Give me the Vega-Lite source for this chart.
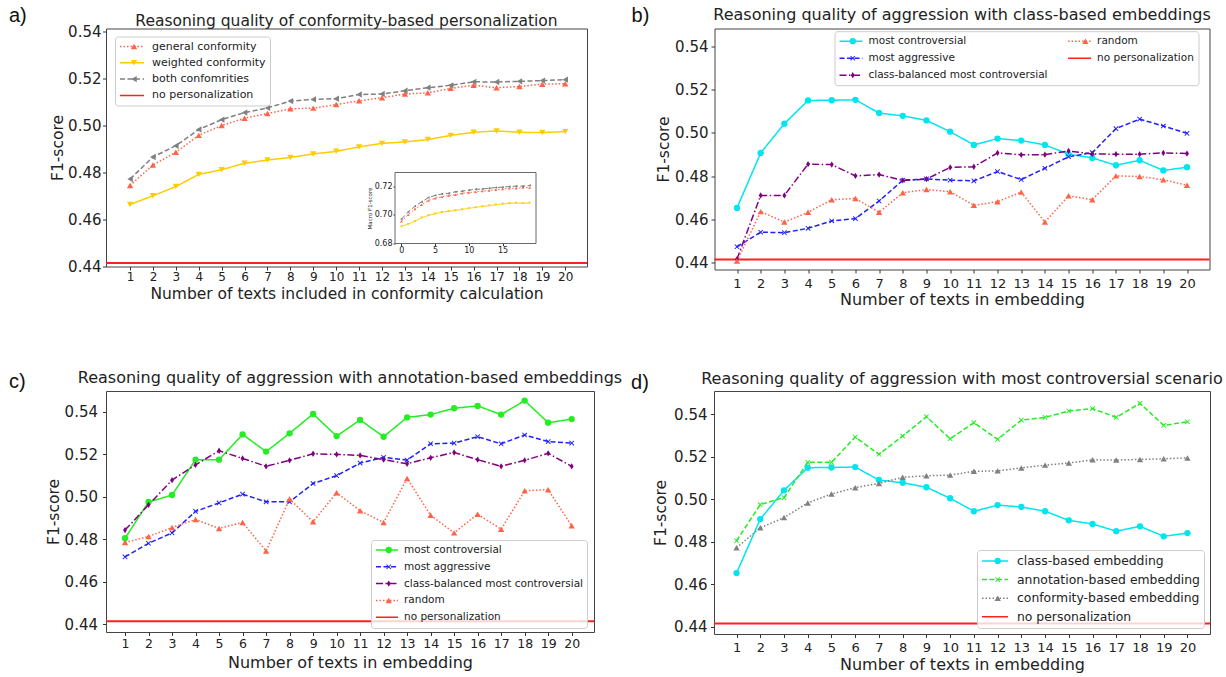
{
"$schema": "https://vega.github.io/schema/vega-lite/v6.json",
"background": "white",
"padding": {"left": 8, "top": 4.5, "right": 2, "bottom": 2},
"config": {
  "view": {"stroke": "#444", "strokeWidth": 1},
  "font": "DejaVu Sans",
  "axis": {"domain": false, "grid": false, "tickColor": "#333", "tickSize": 3.5, "labelColor": "#222", "titleColor": "#222", "labelFont": "DejaVu Sans", "titleFont": "DejaVu Sans", "titleFontWeight": "normal", "labelFlush": false, "labelOverlap": false},
  "title": {"font": "DejaVu Sans", "fontWeight": "normal", "color": "#222", "frame": "group", "anchor": "middle", "baseline": "alphabetic", "offset": 0},
  "legend": {"labelFont": "DejaVu Sans", "labelColor": "#222"}
},
"datasets": {
  "none": [{"series": "no personalization", "f1": 0.4415}],
  "a": [
    {"n":1,"f1":0.4745,"series":"general conformity"},{"n":2,"f1":0.4832,"series":"general conformity"},{"n":3,"f1":0.4886,"series":"general conformity"},{"n":4,"f1":0.4958,"series":"general conformity"},{"n":5,"f1":0.5000,"series":"general conformity"},{"n":6,"f1":0.5031,"series":"general conformity"},{"n":7,"f1":0.5051,"series":"general conformity"},{"n":8,"f1":0.5071,"series":"general conformity"},{"n":9,"f1":0.5074,"series":"general conformity"},{"n":10,"f1":0.5089,"series":"general conformity"},{"n":11,"f1":0.5105,"series":"general conformity"},{"n":12,"f1":0.5118,"series":"general conformity"},{"n":13,"f1":0.5134,"series":"general conformity"},{"n":14,"f1":0.5139,"series":"general conformity"},{"n":15,"f1":0.5158,"series":"general conformity"},{"n":16,"f1":0.5171,"series":"general conformity"},{"n":17,"f1":0.5161,"series":"general conformity"},{"n":18,"f1":0.5166,"series":"general conformity"},{"n":19,"f1":0.5176,"series":"general conformity"},{"n":20,"f1":0.5178,"series":"general conformity"},
    {"n":1,"f1":0.4664,"series":"weighted conformity"},{"n":2,"f1":0.4701,"series":"weighted conformity"},{"n":3,"f1":0.4740,"series":"weighted conformity"},{"n":4,"f1":0.4792,"series":"weighted conformity"},{"n":5,"f1":0.4812,"series":"weighted conformity"},{"n":6,"f1":0.4839,"series":"weighted conformity"},{"n":7,"f1":0.4853,"series":"weighted conformity"},{"n":8,"f1":0.4864,"series":"weighted conformity"},{"n":9,"f1":0.4879,"series":"weighted conformity"},{"n":10,"f1":0.4890,"series":"weighted conformity"},{"n":11,"f1":0.4909,"series":"weighted conformity"},{"n":12,"f1":0.4924,"series":"weighted conformity"},{"n":13,"f1":0.4930,"series":"weighted conformity"},{"n":14,"f1":0.4940,"series":"weighted conformity"},{"n":15,"f1":0.4958,"series":"weighted conformity"},{"n":16,"f1":0.4971,"series":"weighted conformity"},{"n":17,"f1":0.4977,"series":"weighted conformity"},{"n":18,"f1":0.4971,"series":"weighted conformity"},{"n":19,"f1":0.4970,"series":"weighted conformity"},{"n":20,"f1":0.4974,"series":"weighted conformity"},
    {"n":1,"f1":0.4772,"series":"both confomrities"},{"n":2,"f1":0.4866,"series":"both confomrities"},{"n":3,"f1":0.4914,"series":"both confomrities"},{"n":4,"f1":0.4983,"series":"both confomrities"},{"n":5,"f1":0.5025,"series":"both confomrities"},{"n":6,"f1":0.5055,"series":"both confomrities"},{"n":7,"f1":0.5075,"series":"both confomrities"},{"n":8,"f1":0.5104,"series":"both confomrities"},{"n":9,"f1":0.5111,"series":"both confomrities"},{"n":10,"f1":0.5114,"series":"both confomrities"},{"n":11,"f1":0.5132,"series":"both confomrities"},{"n":12,"f1":0.5134,"series":"both confomrities"},{"n":13,"f1":0.5148,"series":"both confomrities"},{"n":14,"f1":0.5161,"series":"both confomrities"},{"n":15,"f1":0.5171,"series":"both confomrities"},{"n":16,"f1":0.5186,"series":"both confomrities"},{"n":17,"f1":0.5185,"series":"both confomrities"},{"n":18,"f1":0.5188,"series":"both confomrities"},{"n":19,"f1":0.5191,"series":"both confomrities"},{"n":20,"f1":0.5195,"series":"both confomrities"}
  ],
  "ai": [
    {"n":0,"f1":0.6955,"series":"general conformity"},{"n":1,"f1":0.700,"series":"general conformity"},{"n":2,"f1":0.704,"series":"general conformity"},{"n":3,"f1":0.707,"series":"general conformity"},{"n":4,"f1":0.710,"series":"general conformity"},{"n":5,"f1":0.7115,"series":"general conformity"},{"n":6,"f1":0.7125,"series":"general conformity"},{"n":7,"f1":0.7135,"series":"general conformity"},{"n":8,"f1":0.714,"series":"general conformity"},{"n":9,"f1":0.715,"series":"general conformity"},{"n":10,"f1":0.7155,"series":"general conformity"},{"n":11,"f1":0.716,"series":"general conformity"},{"n":12,"f1":0.7165,"series":"general conformity"},{"n":13,"f1":0.717,"series":"general conformity"},{"n":14,"f1":0.7175,"series":"general conformity"},{"n":15,"f1":0.718,"series":"general conformity"},{"n":16,"f1":0.7185,"series":"general conformity"},{"n":17,"f1":0.7185,"series":"general conformity"},{"n":18,"f1":0.719,"series":"general conformity"},{"n":19,"f1":0.719,"series":"general conformity"},
    {"n":0,"f1":0.6919,"series":"weighted conformity"},{"n":1,"f1":0.6935,"series":"weighted conformity"},{"n":2,"f1":0.6955,"series":"weighted conformity"},{"n":3,"f1":0.698,"series":"weighted conformity"},{"n":4,"f1":0.6995,"series":"weighted conformity"},{"n":5,"f1":0.7008,"series":"weighted conformity"},{"n":6,"f1":0.7018,"series":"weighted conformity"},{"n":7,"f1":0.7025,"series":"weighted conformity"},{"n":8,"f1":0.703,"series":"weighted conformity"},{"n":9,"f1":0.7038,"series":"weighted conformity"},{"n":10,"f1":0.7045,"series":"weighted conformity"},{"n":11,"f1":0.7052,"series":"weighted conformity"},{"n":12,"f1":0.7058,"series":"weighted conformity"},{"n":13,"f1":0.7064,"series":"weighted conformity"},{"n":14,"f1":0.707,"series":"weighted conformity"},{"n":15,"f1":0.7076,"series":"weighted conformity"},{"n":16,"f1":0.708,"series":"weighted conformity"},{"n":17,"f1":0.7082,"series":"weighted conformity"},{"n":18,"f1":0.708,"series":"weighted conformity"},{"n":19,"f1":0.7082,"series":"weighted conformity"},
    {"n":0,"f1":0.697,"series":"both confomrities"},{"n":1,"f1":0.702,"series":"both confomrities"},{"n":2,"f1":0.706,"series":"both confomrities"},{"n":3,"f1":0.709,"series":"both confomrities"},{"n":4,"f1":0.712,"series":"both confomrities"},{"n":5,"f1":0.7135,"series":"both confomrities"},{"n":6,"f1":0.7145,"series":"both confomrities"},{"n":7,"f1":0.715,"series":"both confomrities"},{"n":8,"f1":0.716,"series":"both confomrities"},{"n":9,"f1":0.7165,"series":"both confomrities"},{"n":10,"f1":0.7172,"series":"both confomrities"},{"n":11,"f1":0.7178,"series":"both confomrities"},{"n":12,"f1":0.718,"series":"both confomrities"},{"n":13,"f1":0.7185,"series":"both confomrities"},{"n":14,"f1":0.719,"series":"both confomrities"},{"n":15,"f1":0.7193,"series":"both confomrities"},{"n":16,"f1":0.7197,"series":"both confomrities"},{"n":17,"f1":0.720,"series":"both confomrities"},{"n":18,"f1":0.720,"series":"both confomrities"},{"n":19,"f1":0.7205,"series":"both confomrities"}
  ],
  "b": [
    {"n":1,"f1":0.4653,"series":"most controversial"},{"n":2,"f1":0.4907,"series":"most controversial"},{"n":3,"f1":0.5042,"series":"most controversial"},{"n":4,"f1":0.5149,"series":"most controversial"},{"n":5,"f1":0.5150,"series":"most controversial"},{"n":6,"f1":0.5152,"series":"most controversial"},{"n":7,"f1":0.5091,"series":"most controversial"},{"n":8,"f1":0.5078,"series":"most controversial"},{"n":9,"f1":0.5057,"series":"most controversial"},{"n":10,"f1":0.5005,"series":"most controversial"},{"n":11,"f1":0.4944,"series":"most controversial"},{"n":12,"f1":0.4973,"series":"most controversial"},{"n":13,"f1":0.4964,"series":"most controversial"},{"n":14,"f1":0.4944,"series":"most controversial"},{"n":15,"f1":0.4901,"series":"most controversial"},{"n":16,"f1":0.4884,"series":"most controversial"},{"n":17,"f1":0.4850,"series":"most controversial"},{"n":18,"f1":0.4873,"series":"most controversial"},{"n":19,"f1":0.4826,"series":"most controversial"},{"n":20,"f1":0.4841,"series":"most controversial"},
    {"n":1,"f1":0.4474,"series":"most aggressive"},{"n":2,"f1":0.4541,"series":"most aggressive"},{"n":3,"f1":0.4539,"series":"most aggressive"},{"n":4,"f1":0.4559,"series":"most aggressive"},{"n":5,"f1":0.4593,"series":"most aggressive"},{"n":6,"f1":0.4604,"series":"most aggressive"},{"n":7,"f1":0.4685,"series":"most aggressive"},{"n":8,"f1":0.4781,"series":"most aggressive"},{"n":9,"f1":0.4787,"series":"most aggressive"},{"n":10,"f1":0.4781,"series":"most aggressive"},{"n":11,"f1":0.4778,"series":"most aggressive"},{"n":12,"f1":0.4821,"series":"most aggressive"},{"n":13,"f1":0.4784,"series":"most aggressive"},{"n":14,"f1":0.4836,"series":"most aggressive"},{"n":15,"f1":0.4889,"series":"most aggressive"},{"n":16,"f1":0.4908,"series":"most aggressive"},{"n":17,"f1":0.5019,"series":"most aggressive"},{"n":18,"f1":0.5063,"series":"most aggressive"},{"n":19,"f1":0.5031,"series":"most aggressive"},{"n":20,"f1":0.4997,"series":"most aggressive"},
    {"n":1,"f1":0.4417,"series":"class-balanced most controversial"},{"n":2,"f1":0.4711,"series":"class-balanced most controversial"},{"n":3,"f1":0.4711,"series":"class-balanced most controversial"},{"n":4,"f1":0.4855,"series":"class-balanced most controversial"},{"n":5,"f1":0.4853,"series":"class-balanced most controversial"},{"n":6,"f1":0.4801,"series":"class-balanced most controversial"},{"n":7,"f1":0.4807,"series":"class-balanced most controversial"},{"n":8,"f1":0.4780,"series":"class-balanced most controversial"},{"n":9,"f1":0.4786,"series":"class-balanced most controversial"},{"n":10,"f1":0.4840,"series":"class-balanced most controversial"},{"n":11,"f1":0.4843,"series":"class-balanced most controversial"},{"n":12,"f1":0.4907,"series":"class-balanced most controversial"},{"n":13,"f1":0.4898,"series":"class-balanced most controversial"},{"n":14,"f1":0.4899,"series":"class-balanced most controversial"},{"n":15,"f1":0.4916,"series":"class-balanced most controversial"},{"n":16,"f1":0.4902,"series":"class-balanced most controversial"},{"n":17,"f1":0.4901,"series":"class-balanced most controversial"},{"n":18,"f1":0.4901,"series":"class-balanced most controversial"},{"n":19,"f1":0.4907,"series":"class-balanced most controversial"},{"n":20,"f1":0.4904,"series":"class-balanced most controversial"},
    {"n":1,"f1":0.4408,"series":"random"},{"n":2,"f1":0.4636,"series":"random"},{"n":3,"f1":0.4588,"series":"random"},{"n":4,"f1":0.4633,"series":"random"},{"n":5,"f1":0.4691,"series":"random"},{"n":6,"f1":0.4697,"series":"random"},{"n":7,"f1":0.4633,"series":"random"},{"n":8,"f1":0.4723,"series":"random"},{"n":9,"f1":0.4738,"series":"random"},{"n":10,"f1":0.4728,"series":"random"},{"n":11,"f1":0.4665,"series":"random"},{"n":12,"f1":0.4682,"series":"random"},{"n":13,"f1":0.4726,"series":"random"},{"n":14,"f1":0.4588,"series":"random"},{"n":15,"f1":0.4709,"series":"random"},{"n":16,"f1":0.4691,"series":"random"},{"n":17,"f1":0.4801,"series":"random"},{"n":18,"f1":0.4798,"series":"random"},{"n":19,"f1":0.4783,"series":"random"},{"n":20,"f1":0.4758,"series":"random"}
  ],
  "c": [
    {"n":1,"f1":0.4805,"series":"most controversial"},{"n":2,"f1":0.4975,"series":"most controversial"},{"n":3,"f1":0.5008,"series":"most controversial"},{"n":4,"f1":0.5174,"series":"most controversial"},{"n":5,"f1":0.5174,"series":"most controversial"},{"n":6,"f1":0.5293,"series":"most controversial"},{"n":7,"f1":0.5212,"series":"most controversial"},{"n":8,"f1":0.5298,"series":"most controversial"},{"n":9,"f1":0.5389,"series":"most controversial"},{"n":10,"f1":0.5285,"series":"most controversial"},{"n":11,"f1":0.5361,"series":"most controversial"},{"n":12,"f1":0.5282,"series":"most controversial"},{"n":13,"f1":0.5373,"series":"most controversial"},{"n":14,"f1":0.5386,"series":"most controversial"},{"n":15,"f1":0.5416,"series":"most controversial"},{"n":16,"f1":0.5427,"series":"most controversial"},{"n":17,"f1":0.5386,"series":"most controversial"},{"n":18,"f1":0.5452,"series":"most controversial"},{"n":19,"f1":0.5348,"series":"most controversial"},{"n":20,"f1":0.5365,"series":"most controversial"},
    {"n":1,"f1":0.4717,"series":"most aggressive"},{"n":2,"f1":0.4781,"series":"most aggressive"},{"n":3,"f1":0.4830,"series":"most aggressive"},{"n":4,"f1":0.4931,"series":"most aggressive"},{"n":5,"f1":0.4971,"series":"most aggressive"},{"n":6,"f1":0.5012,"series":"most aggressive"},{"n":7,"f1":0.4976,"series":"most aggressive"},{"n":8,"f1":0.4976,"series":"most aggressive"},{"n":9,"f1":0.5062,"series":"most aggressive"},{"n":10,"f1":0.5099,"series":"most aggressive"},{"n":11,"f1":0.5158,"series":"most aggressive"},{"n":12,"f1":0.5185,"series":"most aggressive"},{"n":13,"f1":0.5172,"series":"most aggressive"},{"n":14,"f1":0.5249,"series":"most aggressive"},{"n":15,"f1":0.5252,"series":"most aggressive"},{"n":16,"f1":0.5282,"series":"most aggressive"},{"n":17,"f1":0.5249,"series":"most aggressive"},{"n":18,"f1":0.5290,"series":"most aggressive"},{"n":19,"f1":0.5259,"series":"most aggressive"},{"n":20,"f1":0.5252,"series":"most aggressive"},
    {"n":1,"f1":0.4843,"series":"class-balanced most controversial"},{"n":2,"f1":0.4962,"series":"class-balanced most controversial"},{"n":3,"f1":0.5078,"series":"class-balanced most controversial"},{"n":4,"f1":0.5150,"series":"class-balanced most controversial"},{"n":5,"f1":0.5216,"series":"class-balanced most controversial"},{"n":6,"f1":0.5180,"series":"class-balanced most controversial"},{"n":7,"f1":0.5143,"series":"class-balanced most controversial"},{"n":8,"f1":0.5171,"series":"class-balanced most controversial"},{"n":9,"f1":0.5202,"series":"class-balanced most controversial"},{"n":10,"f1":0.5199,"series":"class-balanced most controversial"},{"n":11,"f1":0.5194,"series":"class-balanced most controversial"},{"n":12,"f1":0.5174,"series":"class-balanced most controversial"},{"n":13,"f1":0.5155,"series":"class-balanced most controversial"},{"n":14,"f1":0.5183,"series":"class-balanced most controversial"},{"n":15,"f1":0.5208,"series":"class-balanced most controversial"},{"n":16,"f1":0.5174,"series":"class-balanced most controversial"},{"n":17,"f1":0.5143,"series":"class-balanced most controversial"},{"n":18,"f1":0.5171,"series":"class-balanced most controversial"},{"n":19,"f1":0.5204,"series":"class-balanced most controversial"},{"n":20,"f1":0.5143,"series":"class-balanced most controversial"},
    {"n":1,"f1":0.4785,"series":"random"},{"n":2,"f1":0.4813,"series":"random"},{"n":3,"f1":0.4855,"series":"random"},{"n":4,"f1":0.4893,"series":"random"},{"n":5,"f1":0.4851,"series":"random"},{"n":6,"f1":0.4879,"series":"random"},{"n":7,"f1":0.4745,"series":"random"},{"n":8,"f1":0.4989,"series":"random"},{"n":9,"f1":0.4882,"series":"random"},{"n":10,"f1":0.5019,"series":"random"},{"n":11,"f1":0.4934,"series":"random"},{"n":12,"f1":0.4879,"series":"random"},{"n":13,"f1":0.5086,"series":"random"},{"n":14,"f1":0.4913,"series":"random"},{"n":15,"f1":0.4830,"series":"random"},{"n":16,"f1":0.4918,"series":"random"},{"n":17,"f1":0.4847,"series":"random"},{"n":18,"f1":0.5028,"series":"random"},{"n":19,"f1":0.5033,"series":"random"},{"n":20,"f1":0.4863,"series":"random"}
  ],
  "d": [
    {"n":1,"f1":0.4653,"series":"class-based embedding"},{"n":2,"f1":0.4907,"series":"class-based embedding"},{"n":3,"f1":0.5042,"series":"class-based embedding"},{"n":4,"f1":0.5149,"series":"class-based embedding"},{"n":5,"f1":0.5150,"series":"class-based embedding"},{"n":6,"f1":0.5152,"series":"class-based embedding"},{"n":7,"f1":0.5091,"series":"class-based embedding"},{"n":8,"f1":0.5078,"series":"class-based embedding"},{"n":9,"f1":0.5057,"series":"class-based embedding"},{"n":10,"f1":0.5005,"series":"class-based embedding"},{"n":11,"f1":0.4944,"series":"class-based embedding"},{"n":12,"f1":0.4973,"series":"class-based embedding"},{"n":13,"f1":0.4964,"series":"class-based embedding"},{"n":14,"f1":0.4944,"series":"class-based embedding"},{"n":15,"f1":0.4901,"series":"class-based embedding"},{"n":16,"f1":0.4884,"series":"class-based embedding"},{"n":17,"f1":0.4850,"series":"class-based embedding"},{"n":18,"f1":0.4873,"series":"class-based embedding"},{"n":19,"f1":0.4826,"series":"class-based embedding"},{"n":20,"f1":0.4841,"series":"class-based embedding"},
    {"n":1,"f1":0.4805,"series":"annotation-based embedding"},{"n":2,"f1":0.4975,"series":"annotation-based embedding"},{"n":3,"f1":0.5008,"series":"annotation-based embedding"},{"n":4,"f1":0.5174,"series":"annotation-based embedding"},{"n":5,"f1":0.5174,"series":"annotation-based embedding"},{"n":6,"f1":0.5293,"series":"annotation-based embedding"},{"n":7,"f1":0.5212,"series":"annotation-based embedding"},{"n":8,"f1":0.5298,"series":"annotation-based embedding"},{"n":9,"f1":0.5389,"series":"annotation-based embedding"},{"n":10,"f1":0.5285,"series":"annotation-based embedding"},{"n":11,"f1":0.5361,"series":"annotation-based embedding"},{"n":12,"f1":0.5282,"series":"annotation-based embedding"},{"n":13,"f1":0.5373,"series":"annotation-based embedding"},{"n":14,"f1":0.5386,"series":"annotation-based embedding"},{"n":15,"f1":0.5416,"series":"annotation-based embedding"},{"n":16,"f1":0.5427,"series":"annotation-based embedding"},{"n":17,"f1":0.5386,"series":"annotation-based embedding"},{"n":18,"f1":0.5452,"series":"annotation-based embedding"},{"n":19,"f1":0.5348,"series":"annotation-based embedding"},{"n":20,"f1":0.5365,"series":"annotation-based embedding"},
    {"n":1,"f1":0.4772,"series":"conformity-based embedding"},{"n":2,"f1":0.4866,"series":"conformity-based embedding"},{"n":3,"f1":0.4914,"series":"conformity-based embedding"},{"n":4,"f1":0.4983,"series":"conformity-based embedding"},{"n":5,"f1":0.5025,"series":"conformity-based embedding"},{"n":6,"f1":0.5055,"series":"conformity-based embedding"},{"n":7,"f1":0.5075,"series":"conformity-based embedding"},{"n":8,"f1":0.5104,"series":"conformity-based embedding"},{"n":9,"f1":0.5111,"series":"conformity-based embedding"},{"n":10,"f1":0.5114,"series":"conformity-based embedding"},{"n":11,"f1":0.5132,"series":"conformity-based embedding"},{"n":12,"f1":0.5134,"series":"conformity-based embedding"},{"n":13,"f1":0.5148,"series":"conformity-based embedding"},{"n":14,"f1":0.5161,"series":"conformity-based embedding"},{"n":15,"f1":0.5171,"series":"conformity-based embedding"},{"n":16,"f1":0.5186,"series":"conformity-based embedding"},{"n":17,"f1":0.5185,"series":"conformity-based embedding"},{"n":18,"f1":0.5188,"series":"conformity-based embedding"},{"n":19,"f1":0.5191,"series":"conformity-based embedding"},{"n":20,"f1":0.5195,"series":"conformity-based embedding"}
  ]
},
"spacing": 60.5,
"resolve": {"scale": {"color": "independent", "fill": "independent", "shape": "independent", "strokeDash": "independent"}},
"vconcat": [
 {
  "spacing": 41.5,
  "resolve": {"scale": {"color": "independent", "fill": "independent", "shape": "independent", "strokeDash": "independent"}},
  "hconcat": [
   {
    "width": 481, "height": 238,
    "title": {"text": "Reasoning quality of conformity-based personalization", "fontSize": 15.5, "dy": 27.6},
    "resolve": {"scale": {"x": "independent", "y": "independent"}},
    "layer": [
     {
      "layer": [
       {"data": {"name": "none"}, "mark": {"type": "rule", "strokeWidth": 2},
        "encoding": {
         "y": {"field": "f1", "type": "quantitative", "scale": {"domain": [0.44, 0.54128], "nice": false, "zero": false}},
         "color": {"field": "series", "type": "nominal", "scale": {"domain": ["general conformity", "weighted conformity", "both confomrities", "no personalization"], "range": ["#ff6347", "#ffcc00", "#808080", "#ff2020"]}, "legend": {"orient": "none", "legendX": 9, "legendY": 8, "title": null, "symbolType": "stroke", "symbolSize": 576, "symbolStrokeWidth": 1.5, "clipHeight": 12, "labelFontSize": 11, "labelLimit": 400, "labelOffset": 7, "rowPadding": 4.3, "padding": 4, "fillColor": "rgba(255,255,255,0.8)", "strokeColor": "#cccccc", "cornerRadius": 3}},
         "strokeDash": {"field": "series", "type": "nominal", "scale": {"domain": ["general conformity", "weighted conformity", "both confomrities", "no personalization"], "range": [[1.5, 2], [1, 0], [5, 2.5], [1, 0]]}}
        }},
       {"data": {"name": "a"}, "mark": {"type": "line", "strokeWidth": 1.5},
        "encoding": {
         "x": {"field": "n", "type": "quantitative", "scale": {"domain": [-0.05, 20.95], "nice": false, "zero": false}, "axis": {"values": [1,2,3,4,5,6,7,8,9,10,11,12,13,14,15,16,17,18,19,20], "tickCount": 40, "format": "d", "labelOverlap": false, "title": "Number of texts included in conformity calculation", "labelFontSize": 12, "titleFontSize": 15.5, "labelPadding": 1.2, "titlePadding": 4.6}},
         "y": {"field": "f1", "type": "quantitative", "scale": {"domain": [0.44, 0.54128], "nice": false, "zero": false}, "axis": {"values": [0.44, 0.46, 0.48, 0.5, 0.52, 0.54], "tickCount": 12, "format": ".2f", "labelOverlap": false, "title": "F1-score", "labelFontSize": 15, "titleFontSize": 15.5, "labelPadding": 1.5, "titlePadding": 2.5}},
         "color": {"field": "series", "type": "nominal", "scale": {"domain": ["general conformity", "weighted conformity", "both confomrities", "no personalization"], "range": ["#ff6347", "#ffcc00", "#808080", "#ff2020"]}},
         "strokeDash": {"field": "series", "type": "nominal", "scale": {"domain": ["general conformity", "weighted conformity", "both confomrities", "no personalization"], "range": [[1.5, 2], [1, 0], [5, 2.5], [1, 0]]}}
        }},
       {"data": {"name": "a"}, "mark": {"type": "point", "filled": true, "size": 40, "opacity": 1},
        "encoding": {
         "x": {"field": "n", "type": "quantitative", "scale": {"domain": [-0.05, 20.95], "nice": false, "zero": false}},
         "y": {"field": "f1", "type": "quantitative", "scale": {"domain": [0.44, 0.54128], "nice": false, "zero": false}},
         "fill": {"field": "series", "type": "nominal", "scale": {"domain": ["general conformity", "weighted conformity", "both confomrities"], "range": ["#ff6347", "#ffcc00", "#808080"]}, "legend": {"orient": "none", "legendX": 18.5, "legendY": 8, "title": null, "symbolSize": 40, "symbolStrokeWidth": 0, "clipHeight": 12, "labelFontSize": 11, "labelLimit": 400, "labelOpacity": 0, "labelOffset": 26, "rowPadding": 4.3, "padding": 4}},
         "shape": {"field": "series", "type": "nominal", "scale": {"domain": ["general conformity", "weighted conformity", "both confomrities"], "range": ["triangle-up", "triangle-down", "triangle-left"]}}
        }},
       {"data": {"values": [{"label": "a)"}]}, "mark": {"type": "text", "align": "left", "baseline": "middle", "font": "Liberation Sans", "fontSize": 20, "color": "#111", "clip": false},
        "encoding": {"x": {"datum": -4.285, "type": "quantitative"}, "y": {"datum": 0.54681, "type": "quantitative"}, "text": {"field": "label"}}}
      ]
     },
     {
      "layer": [
       {"data": {"values": [{"frame": "inset"}]}, "mark": {"type": "rect", "fill": "white", "stroke": "#444", "strokeWidth": 0.8},
        "encoding": {
         "x": {"datum": -0.95, "type": "quantitative", "scale": {"domain": [-0.95, 19.95], "range": [289, 430], "nice": false, "zero": false}, "axis": {"orient": "bottom", "offset": -23, "values": [0, 5, 10, 15], "tickCount": 10, "format": "d", "labelOverlap": false, "title": null, "labelFontSize": 8, "tickSize": 2, "labelPadding": 1}},
         "x2": {"datum": 19.95},
         "y": {"datum": 0.68, "type": "quantitative", "scale": {"domain": [0.68, 0.7295], "range": [215, 144], "nice": false, "zero": false}, "axis": {"orient": "left", "offset": -289, "values": [0.68, 0.70, 0.72], "tickCount": 10, "format": ".2f", "labelOverlap": false, "title": "Macro F1-score", "titleFontSize": 5.5, "labelFontSize": 8, "tickSize": 2, "labelPadding": 1, "titlePadding": 2}},
         "y2": {"datum": 0.7295}
        }},
       {"data": {"name": "ai"}, "mark": {"type": "line", "strokeWidth": 1},
        "encoding": {
         "x": {"field": "n", "type": "quantitative", "scale": {"domain": [-0.95, 19.95], "range": [289, 430], "nice": false, "zero": false}},
         "y": {"field": "f1", "type": "quantitative", "scale": {"domain": [0.68, 0.7295], "range": [215, 144], "nice": false, "zero": false}},
         "color": {"field": "series", "type": "nominal", "scale": {"domain": ["general conformity", "weighted conformity", "both confomrities", "no personalization"], "range": ["#ff6347", "#ffcc00", "#808080", "#ff2020"]}},
         "strokeDash": {"field": "series", "type": "nominal", "scale": {"domain": ["general conformity", "weighted conformity", "both confomrities", "no personalization"], "range": [[1.5, 2], [1, 0], [5, 2.5], [1, 0]]}}
        }},
       {"data": {"name": "ai"}, "mark": {"type": "point", "filled": true, "size": 8, "opacity": 1},
        "encoding": {
         "x": {"field": "n", "type": "quantitative", "scale": {"domain": [-0.95, 19.95], "range": [289, 430], "nice": false, "zero": false}},
         "y": {"field": "f1", "type": "quantitative", "scale": {"domain": [0.68, 0.7295], "range": [215, 144], "nice": false, "zero": false}},
         "fill": {"field": "series", "type": "nominal", "scale": {"domain": ["general conformity", "weighted conformity", "both confomrities"], "range": ["#ff6347", "#ffcc00", "#808080"]}},
         "shape": {"field": "series", "type": "nominal", "scale": {"domain": ["general conformity", "weighted conformity", "both confomrities"], "range": ["triangle-up", "triangle-down", "triangle-left"]}}
        }}
      ]
     }
    ]
   },
   {
    "width": 495, "height": 241,
    "title": {"text": "Reasoning quality of aggression with class-based embeddings", "fontSize": 16, "dy": 20.1},
    "layer": [
     {"data": {"name": "none"}, "mark": {"type": "rule", "strokeWidth": 2},
      "encoding": {
       "y": {"field": "f1", "type": "quantitative", "scale": {"domain": [0.4369, 0.5481], "nice": false, "zero": false}},
       "color": {"field": "series", "type": "nominal", "scale": {"domain": ["most controversial", "most aggressive", "class-balanced most controversial", "random", "no personalization"], "range": ["#00e5ee", "#1f1fff", "#800080", "#ff6347", "#ff2020"]}, "legend": {"orient": "none", "legendX": 120, "legendY": 2.7, "title": null, "columns": 2, "columnPadding": 19.6, "symbolType": "stroke", "symbolSize": 529, "symbolStrokeWidth": 1.5, "clipHeight": 12, "labelFontSize": 10.5, "labelLimit": 400, "labelOffset": 5, "rowPadding": 5, "padding": 4, "fillColor": "rgba(255,255,255,0.8)", "strokeColor": "#cccccc", "cornerRadius": 3}},
       "strokeDash": {"field": "series", "type": "nominal", "scale": {"domain": ["most controversial", "most aggressive", "class-balanced most controversial", "random", "no personalization"], "range": [[1, 0], [5, 2.5], [7, 2.5, 1.5, 2.5], [1.5, 2], [1, 0]]}}
      }},
     {"data": {"name": "b"}, "mark": {"type": "line", "strokeWidth": 1.5},
      "encoding": {
       "x": {"field": "n", "type": "quantitative", "scale": {"domain": [0.05, 20.95], "nice": false, "zero": false}, "axis": {"values": [1,2,3,4,5,6,7,8,9,10,11,12,13,14,15,16,17,18,19,20], "tickCount": 40, "format": "d", "labelOverlap": false, "title": "Number of texts in embedding", "labelFontSize": 13, "titleFontSize": 16, "labelPadding": 4.7, "titlePadding": 1.2}},
       "y": {"field": "f1", "type": "quantitative", "scale": {"domain": [0.4369, 0.5481], "nice": false, "zero": false}, "axis": {"values": [0.44, 0.46, 0.48, 0.5, 0.52, 0.54], "tickCount": 12, "format": ".2f", "labelOverlap": false, "title": "F1-score", "labelFontSize": 15, "titleFontSize": 15.5, "labelPadding": 3, "titlePadding": 3.3}},
       "color": {"field": "series", "type": "nominal", "scale": {"domain": ["most controversial", "most aggressive", "class-balanced most controversial", "random", "no personalization"], "range": ["#00e5ee", "#1f1fff", "#800080", "#ff6347", "#ff2020"]}},
       "strokeDash": {"field": "series", "type": "nominal", "scale": {"domain": ["most controversial", "most aggressive", "class-balanced most controversial", "random", "no personalization"], "range": [[1, 0], [5, 2.5], [7, 2.5, 1.5, 2.5], [1.5, 2], [1, 0]]}}
      }},
     {"data": {"name": "b"}, "mark": {"type": "point", "filled": true, "size": 40, "opacity": 1},
      "encoding": {
       "x": {"field": "n", "type": "quantitative", "scale": {"domain": [0.05, 20.95], "nice": false, "zero": false}},
       "y": {"field": "f1", "type": "quantitative", "scale": {"domain": [0.4369, 0.5481], "nice": false, "zero": false}},
       "fill": {"field": "series", "type": "nominal", "scale": {"domain": ["most controversial", "most aggressive", "class-balanced most controversial", "random", "_"], "range": ["#00e5ee", "#1f1fff", "#800080", "#ff6347", "transparent"]}, "legend": {"orient": "none", "legendX": 129, "legendY": 2.7, "title": null, "columns": 2, "columnPadding": 19.6, "symbolSize": 40, "symbolStrokeWidth": 0, "clipHeight": 12, "labelFontSize": 10.5, "labelLimit": 400, "labelOpacity": 0, "labelOffset": 23, "rowPadding": 5, "padding": 4}},
       "shape": {"field": "series", "type": "nominal", "scale": {"domain": ["most controversial", "most aggressive", "class-balanced most controversial", "random", "_"], "range": ["circle", "M-0.6,0.81L0,0.21L0.6,0.81L0.81,0.6L0.21,0L0.81,-0.6L0.6,-0.81L0,-0.21L-0.6,-0.81L-0.81,-0.6L-0.21,0L-0.81,0.6Z", "M0,-1L0.62,0L0,1L-0.62,0Z", "triangle-up", "circle"]}}
      }},
     {"data": {"values": [{"label": "b)"}]}, "mark": {"type": "text", "align": "left", "baseline": "middle", "font": "Liberation Sans", "fontSize": 20, "color": "#111", "clip": false},
      "encoding": {"x": {"datum": -3.454, "type": "quantitative"}, "y": {"datum": 0.55364, "type": "quantitative"}, "text": {"field": "label"}}}
    ]
   }
  ]
 },
 {
  "spacing": 7,
  "resolve": {"scale": {"color": "independent", "fill": "independent", "shape": "independent", "strokeDash": "independent"}},
  "hconcat": [
   {
    "width": 488, "height": 241,
    "title": {"text": "Reasoning quality of aggression with annotation-based embeddings", "fontSize": 16, "dy": 18.1},
    "layer": [
     {"data": {"name": "none"}, "mark": {"type": "rule", "strokeWidth": 2},
      "encoding": {
       "y": {"field": "f1", "type": "quantitative", "scale": {"domain": [0.4364, 0.5497], "nice": false, "zero": false}},
       "color": {"field": "series", "type": "nominal", "scale": {"domain": ["most controversial", "most aggressive", "class-balanced most controversial", "random", "no personalization"], "range": ["#22ee22", "#1f1fff", "#800080", "#ff6347", "#ff2020"]}, "legend": {"orient": "none", "legendX": 265, "legendY": 149, "title": null, "symbolType": "stroke", "symbolSize": 484, "symbolStrokeWidth": 1.5, "clipHeight": 12, "labelFontSize": 10.5, "labelLimit": 400, "labelOffset": 5, "rowPadding": 4.8, "padding": 4, "fillColor": "rgba(255,255,255,0.8)", "strokeColor": "#cccccc", "cornerRadius": 3}},
       "strokeDash": {"field": "series", "type": "nominal", "scale": {"domain": ["most controversial", "most aggressive", "class-balanced most controversial", "random", "no personalization"], "range": [[1, 0], [5, 2.5], [7, 2.5, 1.5, 2.5], [1.5, 2], [1, 0]]}}
      }},
     {"data": {"name": "c"}, "mark": {"type": "line", "strokeWidth": 1.5},
      "encoding": {
       "x": {"field": "n", "type": "quantitative", "scale": {"domain": [0.19, 20.95], "nice": false, "zero": false}, "axis": {"values": [1,2,3,4,5,6,7,8,9,10,11,12,13,14,15,16,17,18,19,20], "tickCount": 40, "format": "d", "labelOverlap": false, "title": "Number of texts in embedding", "labelFontSize": 12.5, "titleFontSize": 16, "labelPadding": 2, "titlePadding": 4.8}},
       "y": {"field": "f1", "type": "quantitative", "scale": {"domain": [0.4364, 0.5497], "nice": false, "zero": false}, "axis": {"values": [0.44, 0.46, 0.48, 0.5, 0.52, 0.54], "tickCount": 12, "format": ".2f", "labelOverlap": false, "title": "F1-score", "labelFontSize": 15, "titleFontSize": 15.5, "labelPadding": 5, "titlePadding": 2.4}},
       "color": {"field": "series", "type": "nominal", "scale": {"domain": ["most controversial", "most aggressive", "class-balanced most controversial", "random", "no personalization"], "range": ["#22ee22", "#1f1fff", "#800080", "#ff6347", "#ff2020"]}},
       "strokeDash": {"field": "series", "type": "nominal", "scale": {"domain": ["most controversial", "most aggressive", "class-balanced most controversial", "random", "no personalization"], "range": [[1, 0], [5, 2.5], [7, 2.5, 1.5, 2.5], [1.5, 2], [1, 0]]}}
      }},
     {"data": {"name": "c"}, "mark": {"type": "point", "filled": true, "size": 40, "opacity": 1},
      "encoding": {
       "x": {"field": "n", "type": "quantitative", "scale": {"domain": [0.19, 20.95], "nice": false, "zero": false}},
       "y": {"field": "f1", "type": "quantitative", "scale": {"domain": [0.4364, 0.5497], "nice": false, "zero": false}},
       "fill": {"field": "series", "type": "nominal", "scale": {"domain": ["most controversial", "most aggressive", "class-balanced most controversial", "random"], "range": ["#22ee22", "#1f1fff", "#800080", "#ff6347"]}, "legend": {"orient": "none", "legendX": 273.5, "legendY": 149, "title": null, "symbolSize": 40, "symbolStrokeWidth": 0, "clipHeight": 12, "labelFontSize": 10.5, "labelLimit": 400, "labelOpacity": 0, "labelOffset": 22, "rowPadding": 4.8, "padding": 4}},
       "shape": {"field": "series", "type": "nominal", "scale": {"domain": ["most controversial", "most aggressive", "class-balanced most controversial", "random"], "range": ["circle", "M-0.6,0.81L0,0.21L0.6,0.81L0.81,0.6L0.21,0L0.81,-0.6L0.6,-0.81L0,-0.21L-0.6,-0.81L-0.81,-0.6L-0.21,0L-0.81,0.6Z", "M0,-1L0.62,0L0,1L-0.62,0Z", "triangle-up"]}}
      }},
     {"data": {"values": [{"label": "c)"}]}, "mark": {"type": "text", "align": "left", "baseline": "middle", "font": "Liberation Sans", "fontSize": 20, "color": "#111", "clip": false},
      "encoding": {"x": {"datum": -3.936, "type": "quantitative"}, "y": {"datum": 0.55393, "type": "quantitative"}, "text": {"field": "label"}}}
    ]
   },
   {
    "width": 496, "height": 243,
    "title": {"text": "Reasoning quality of aggression with most controversial scenario", "fontSize": 16, "dy": 18.1},
    "layer": [
     {"data": {"name": "none"}, "mark": {"type": "rule", "strokeWidth": 2},
      "encoding": {
       "y": {"field": "f1", "type": "quantitative", "scale": {"domain": [0.4366, 0.551], "nice": false, "zero": false}},
       "color": {"field": "series", "type": "nominal", "scale": {"domain": ["class-based embedding", "annotation-based embedding", "conformity-based embedding", "no personalization"], "range": ["#00e5ee", "#22ee22", "#808080", "#ff2020"]}, "legend": {"orient": "none", "legendX": 263, "legendY": 159, "title": null, "symbolType": "stroke", "symbolSize": 676, "symbolStrokeWidth": 1.5, "clipHeight": 14, "labelFontSize": 12.4, "labelLimit": 400, "labelOffset": 8, "rowPadding": 4.6, "padding": 4, "fillColor": "rgba(255,255,255,0.8)", "strokeColor": "#cccccc", "cornerRadius": 3}},
       "strokeDash": {"field": "series", "type": "nominal", "scale": {"domain": ["class-based embedding", "annotation-based embedding", "conformity-based embedding", "no personalization"], "range": [[1, 0], [5, 2.5], [1.5, 2], [1, 0]]}}
      }},
     {"data": {"name": "d"}, "mark": {"type": "line", "strokeWidth": 1.5},
      "encoding": {
       "x": {"field": "n", "type": "quantitative", "scale": {"domain": [0.05, 20.95], "nice": false, "zero": false}, "axis": {"values": [1,2,3,4,5,6,7,8,9,10,11,12,13,14,15,16,17,18,19,20], "tickCount": 40, "format": "d", "labelOverlap": false, "title": "Number of texts in embedding", "labelFontSize": 13, "titleFontSize": 16, "labelPadding": 4, "titlePadding": 2}},
       "y": {"field": "f1", "type": "quantitative", "scale": {"domain": [0.4366, 0.551], "nice": false, "zero": false}, "axis": {"values": [0.44, 0.46, 0.48, 0.5, 0.52, 0.54], "tickCount": 12, "format": ".2f", "labelOverlap": false, "title": "F1-score", "labelFontSize": 15, "titleFontSize": 15.5, "labelPadding": 3.5, "titlePadding": 4.9}},
       "color": {"field": "series", "type": "nominal", "scale": {"domain": ["class-based embedding", "annotation-based embedding", "conformity-based embedding", "no personalization"], "range": ["#00e5ee", "#22ee22", "#808080", "#ff2020"]}},
       "strokeDash": {"field": "series", "type": "nominal", "scale": {"domain": ["class-based embedding", "annotation-based embedding", "conformity-based embedding", "no personalization"], "range": [[1, 0], [5, 2.5], [1.5, 2], [1, 0]]}}
      }},
     {"data": {"name": "d"}, "mark": {"type": "point", "filled": true, "size": 40, "opacity": 1},
      "encoding": {
       "x": {"field": "n", "type": "quantitative", "scale": {"domain": [0.05, 20.95], "nice": false, "zero": false}},
       "y": {"field": "f1", "type": "quantitative", "scale": {"domain": [0.4366, 0.551], "nice": false, "zero": false}},
       "fill": {"field": "series", "type": "nominal", "scale": {"domain": ["class-based embedding", "annotation-based embedding", "conformity-based embedding"], "range": ["#00e5ee", "#22ee22", "#808080"]}, "legend": {"orient": "none", "legendX": 273.5, "legendY": 159, "title": null, "symbolSize": 40, "symbolStrokeWidth": 0, "clipHeight": 14, "labelFontSize": 12.4, "labelLimit": 400, "labelOpacity": 0, "labelOffset": 26, "rowPadding": 4.6, "padding": 4}},
       "shape": {"field": "series", "type": "nominal", "scale": {"domain": ["class-based embedding", "annotation-based embedding", "conformity-based embedding"], "range": ["circle", "M-0.6,0.81L0,0.21L0.6,0.81L0.81,0.6L0.21,0L0.81,-0.6L0.6,-0.81L0,-0.21L-0.6,-0.81L-0.81,-0.6L-0.21,0L-0.81,0.6Z", "triangle-up"]}}
      }},
     {"data": {"values": [{"label": "d)"}]}, "mark": {"type": "text", "align": "left", "baseline": "middle", "font": "Liberation Sans", "fontSize": 20, "color": "#111", "clip": false},
      "encoding": {"x": {"datum": -3.447, "type": "quantitative"}, "y": {"datum": 0.55477, "type": "quantitative"}, "text": {"field": "label"}}}
    ]
   }
  ]
 }
]
}
